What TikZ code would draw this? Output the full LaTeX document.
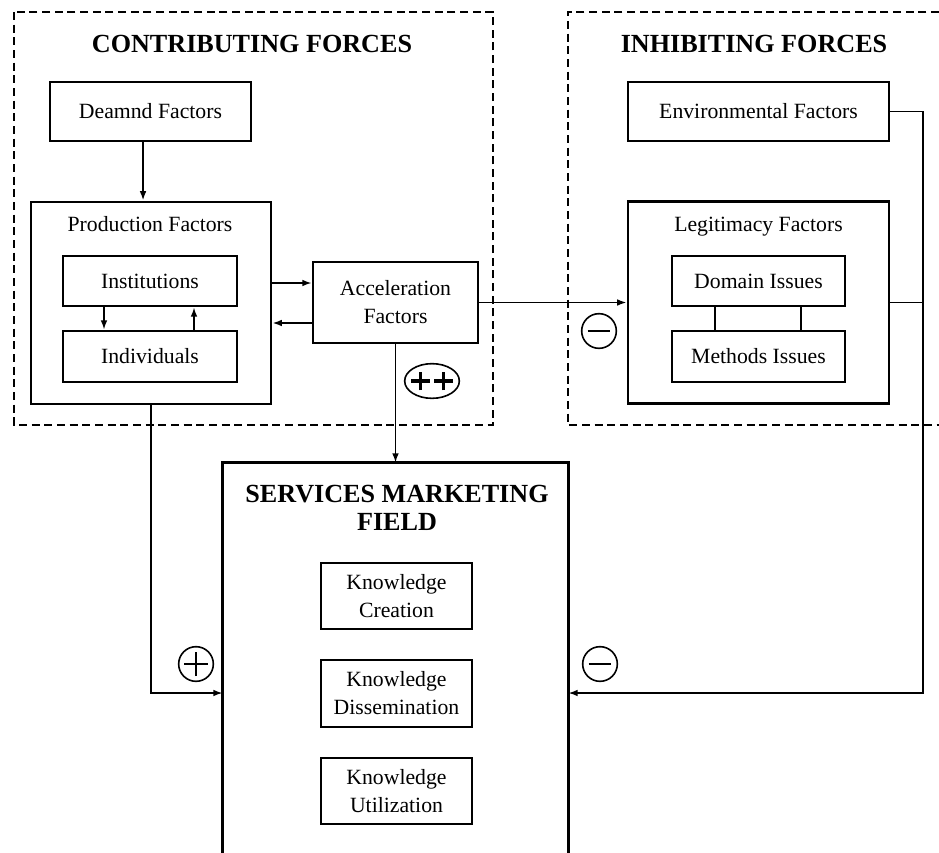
\documentclass[tikz,border=0pt]{standalone}
\usepackage{fontspec}
\setmainfont{Liberation Serif}
\usetikzlibrary{arrows.meta,shapes.geometric}
\begin{document}
\begin{tikzpicture}[x=0.75pt,y=-0.75pt,
  box/.style={draw, line width=2.2pt, inner sep=0pt, font=\fontsize{16.3}{21}\selectfont, align=center},
  ibox/.style={draw, line width=1.9pt, inner sep=0pt, font=\fontsize{16.3}{21}\selectfont, align=center},
  sbox/.style={draw, line width=1.5pt, inner sep=0pt, font=\fontsize{16.3}{21}\selectfont, align=center},
  txt/.style={inner sep=0pt, font=\fontsize{16.3}{21}\selectfont, align=center},
  ttl/.style={inner sep=0pt, font=\fontsize{19.6}{21}\selectfont\bfseries, align=center},
  conn/.style={line width=1.3pt, -{Latex[length=7pt,width=5pt]}},
  wire/.style={line width=1.3pt},
  grp/.style={line width=1.5pt, dash pattern=on 6pt off 3.5pt},
  sign/.style={circle, draw, line width=1.2pt, minimum size=26pt, inner sep=0pt}
]
\useasboundingbox (0,0) rectangle (939,853);
\fill[white] (0,0) rectangle (939,853);

% group frames
\draw[grp] (14,12) rectangle (493,425);
\draw[grp] (939,12) -- (568,12) -- (568,425) -- (939,425);

\node[ttl, anchor=base] (tcon) at (252,52) {CONTRIBUTING FORCES};
\node[ttl, anchor=base] (tinh) at (754,52) {INHIBITING FORCES};

% contributing side
\node[box, minimum width=150.75pt, minimum height=44.25pt] (dem) at (150.5,111.5) {Deamnd Factors};
\node[box, minimum width=180pt, minimum height=151.5pt] (prod) at (151,303) {};
\node[txt, anchor=base] (prodt) at (150,231) {Production Factors};
\node[ibox, minimum width=130.5pt, minimum height=37.5pt] (inst) at (150,281) {Institutions};
\node[ibox, minimum width=130.5pt, minimum height=38.25pt] (indi) at (150,356.5) {Individuals};
\node[ibox, minimum width=123.75pt, minimum height=60.75pt] (acc) at (395.5,302.5) {Acceleration\\Factors};

% inhibiting side
\node[box, minimum width=195.75pt, minimum height=44.25pt] (env) at (758.5,111.5) {Environmental Factors};
\node[box, minimum width=195.75pt, minimum height=151.5pt] (leg) at (758.5,302.5) {};
\node[txt, anchor=base] (legt) at (758.5,231) {Legitimacy Factors};
\node[sbox, minimum width=129.75pt, minimum height=37.5pt] (dom) at (758.5,281) {Domain Issues};
\node[sbox, minimum width=129.75pt, minimum height=38.25pt] (meth) at (758.5,356.5) {Methods Issues};

% services field
\node[minimum width=258.75pt, minimum height=292.5pt, inner sep=0pt] (svc) at (395.5,658) {};
\draw[line width=2.2pt] (svc.south west) -- (svc.north west) -- (svc.north east) -- (svc.south east);
\node[ttl] (svct) at (397,508) {SERVICES MARKETING\\FIELD};
\node[ibox, minimum width=113.25pt, minimum height=49.5pt] (kc) at (396.5,596) {Knowledge\\Creation};
\node[ibox, minimum width=113.25pt, minimum height=50.25pt] (kd) at (396.5,693.5) {Knowledge\\Dissemination};
\node[ibox, minimum width=113.25pt, minimum height=49.5pt] (ku) at (396.5,791) {Knowledge\\Utilization};

% signs
\node[ellipse, draw, line width=1.2pt, minimum width=41pt, minimum height=26pt, inner sep=0pt] (pp) at (432,381) {};
\draw[line width=2.4pt] ([xshift=-15.5pt]pp.center) -- ([xshift=-1.5pt]pp.center);
\draw[line width=2.4pt] ([xshift=-8.5pt,yshift=-7pt]pp.center) -- ([xshift=-8.5pt,yshift=7pt]pp.center);
\draw[line width=2.4pt] ([xshift=1.5pt]pp.center) -- ([xshift=15.5pt]pp.center);
\draw[line width=2.4pt] ([xshift=8.5pt,yshift=-7pt]pp.center) -- ([xshift=8.5pt,yshift=7pt]pp.center);

\node[sign] (m1) at (599,331) {};
\draw[line width=1.9pt] ([xshift=-8.5pt]m1.center) -- ([xshift=8.5pt]m1.center);
\node[sign] (p1) at (196,664) {};
\draw[line width=1.7pt] ([xshift=-9pt]p1.center) -- ([xshift=9pt]p1.center);
\draw[line width=1.7pt] ([yshift=-9pt]p1.center) -- ([yshift=9pt]p1.center);
\node[sign] (m2) at (600,664) {};
\draw[line width=1.9pt] ([xshift=-8.5pt]m2.center) -- ([xshift=8.5pt]m2.center);

% connectors
\coordinate (lvl) at (0,693);
\coordinate (rcorner) at (923,693);
\draw[conn] ([xshift=-5.6pt]dem.south) -- ([xshift=-5.6pt]dem.south |- prod.north);
\draw[conn] ([xshift=-34.5pt]inst.south) -- ([xshift=-34.5pt]inst.south |- indi.north);
\draw[conn] ([xshift=33pt]indi.north) -- ([xshift=33pt]indi.north |- inst.south);
\draw[conn] ([yshift=15pt]prod.east) -- ([yshift=15pt]prod.east -| acc.west);
\draw[conn] ([yshift=-15pt]prod.east -| acc.west) -- ([yshift=-15pt]prod.east);
\draw[conn] (acc.east) -- (acc.east -| leg.west);
\draw[conn] (acc.south) -- (acc.south |- svc.north);
\draw[conn] (prod.south) |- (svc.west |- lvl);
\draw[conn] (env.east) -| (rcorner) -- (svc.east |- rcorner);
\draw[wire] (leg.east) -- (leg.east -| rcorner);
\draw[wire] ([xshift=-32.6pt]dom.south) -- ([xshift=-32.6pt]meth.north);
\draw[wire] ([xshift=31.9pt]dom.south) -- ([xshift=31.9pt]meth.north);
\end{tikzpicture}
\end{document}
